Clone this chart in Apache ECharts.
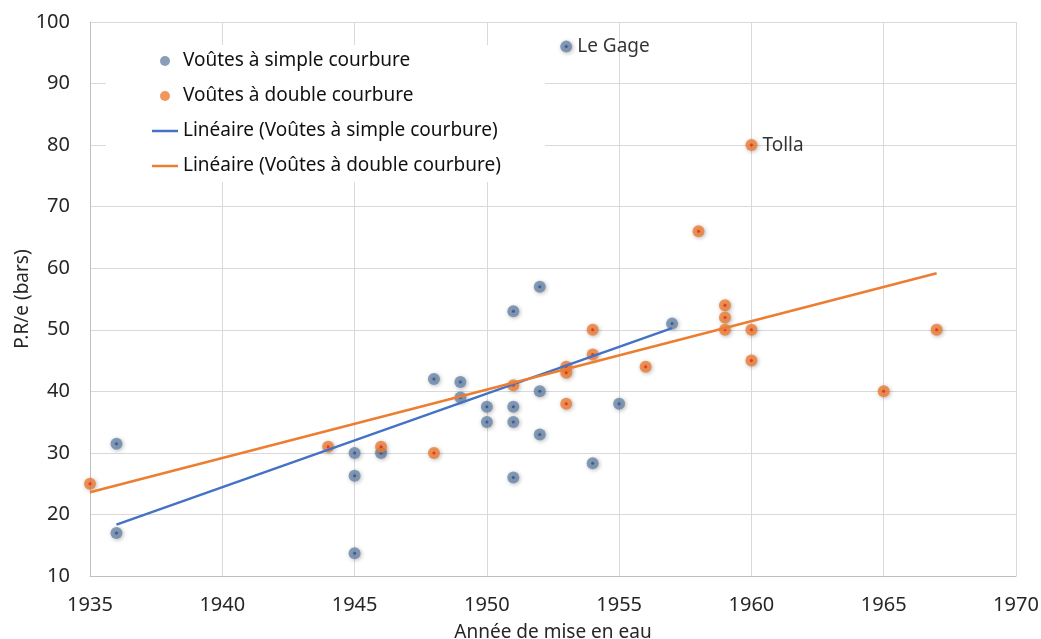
<!DOCTYPE html>
<html>
<head>
<meta charset="utf-8">
<script src="https://cdn.jsdelivr.net/npm/echarts@6/dist/echarts.min.js"></script>
<style>
  html, body { margin: 0; padding: 0; background: #fff; }
  #chart { width: 1041px; height: 639px; }
</style>
</head>
<body>
<div id="chart"></div>
<script>
// Dams with single-curvature arches: year of first filling and P.R/e (bars)
const simpleYears  = [1936, 1936, 1945, 1945, 1945, 1946, 1948, 1949, 1949, 1950, 1950, 1951, 1951, 1951, 1951, 1952, 1952, 1952, 1953, 1954, 1955, 1957];
const simpleValues = [31.5, 17.0, 30.0, 26.3, 13.7, 30.0, 42.0, 41.5, 39.0, 37.5, 35.0, 53.0, 37.5, 35.0, 26.0, 57.0, 40.0, 33.0, 96.0, 28.3, 38.0, 51.0];

// Dams with double-curvature arches
const doubleYears  = [1935, 1944, 1946, 1948, 1951, 1953, 1953, 1953, 1954, 1954, 1956, 1958, 1959, 1959, 1959, 1960, 1960, 1960, 1965, 1967];
const doubleValues = [25.0, 31.0, 31.0, 30.0, 41.0, 44.0, 43.0, 38.0, 50.0, 46.0, 44.0, 66.0, 54.0, 52.0, 50.0, 80.0, 50.0, 45.0, 40.0, 50.0];

// Named dams shown next to their point
const simpleNames = { 18: 'Le Gage' };
const doubleNames = { 15: 'Tolla' };

// Axis ranges
const xMin = 1935, xMax = 1970, xStep = 5;
const yMin = 10, yMax = 100, yStep = 10;

const seriesNames = [
  'Voûtes à simple courbure',
  'Voûtes à double courbure',
  'Linéaire (Voûtes à simple courbure)',
  'Linéaire (Voûtes à double courbure)'
];

const FONT = 'Noto Sans';
const TEXT = '#262626';
const BLUE_PT = '#6c86a8', BLUE_DOT = '#28509a';
const ORANGE_PT = '#ee7d33', ORANGE_DOT = '#e2261c';
const BLUE_LINE = '#4472c4', ORANGE_LINE = '#ed7d31';
const LINE_ICON = 'path://M0,0 L26,0 L26,2.5 L0,2.5 Z';

// Least-squares fit, drawn from the smallest to the largest year
function linearTrend(xs, ys) {
  const n = xs.length;
  const mx = xs.reduce((a, b) => a + b, 0) / n;
  const my = ys.reduce((a, b) => a + b, 0) / n;
  let sxy = 0, sxx = 0;
  for (let i = 0; i < n; i++) {
    sxy += (xs[i] - mx) * (ys[i] - my);
    sxx += (xs[i] - mx) * (xs[i] - mx);
  }
  const slope = sxy / sxx;
  const x0 = Math.min(...xs), x1 = Math.max(...xs);
  return [[x0, my + slope * (x0 - mx)], [x1, my + slope * (x1 - mx)]];
}

function points(xs, ys, names) {
  return xs.map((x, i) => {
    const item = { value: [x, ys[i]] };
    if (names && names[i]) {
      item.label = {
        show: true, position: 'right', distance: 5,
        formatter: names[i], fontFamily: FONT, fontSize: 19, color: '#000'
      };
    }
    return item;
  });
}

const pointShadow = {
  shadowBlur: 4, shadowColor: 'rgba(0,0,0,0.35)', shadowOffsetX: 1, shadowOffsetY: 1
};

const chart = echarts.init(document.getElementById('chart'), null, { renderer: 'canvas' });

chart.setOption({
  backgroundColor: '#fff',
  animation: false,
  grid: { left: 90, right: 25, top: 22, bottom: 63, containLabel: false, outerBoundsMode: 'none' },
  legend: {
    data: [
      { name: seriesNames[0], icon: 'circle' },
      { name: seriesNames[1], icon: 'circle' },
      { name: seriesNames[2], icon: LINE_ICON },
      { name: seriesNames[3], icon: LINE_ICON }
    ],
    orient: 'vertical',
    left: 106, top: 45,
    backgroundColor: '#fff',
    padding: [5, 44, 5, 46],
    itemGap: 13,
    itemWidth: 26,
    itemHeight: 10,
    textStyle: { fontFamily: FONT, fontSize: 19, color: '#111', lineHeight: 22 }
  },
  xAxis: {
    type: 'value', min: xMin, max: xMax, interval: xStep,
    name: 'Année de mise en eau', nameLocation: 'middle', nameGap: 47,
    nameTextStyle: { fontFamily: FONT, fontSize: 19, color: TEXT },
    axisLine: { show: true, lineStyle: { color: '#bfbfbf', width: 1 } },
    axisTick: { show: false },
    axisLabel: { fontFamily: FONT, fontSize: 20, color: TEXT, margin: 19, formatter: v => String(v) },
    splitLine: { show: true, lineStyle: { color: '#d9d9d9', width: 1 } }
  },
  yAxis: {
    type: 'value', min: yMin, max: yMax, interval: yStep,
    name: 'P.R/e (bars)', nameLocation: 'middle', nameGap: 58, nameRotate: 90,
    nameMoveOverlap: false,
    nameTextStyle: { fontFamily: FONT, fontSize: 19, color: TEXT },
    axisLine: { show: true, lineStyle: { color: '#bfbfbf', width: 1 } },
    axisTick: { show: false },
    axisLabel: { fontFamily: FONT, fontSize: 20, color: TEXT, margin: 20, formatter: v => String(v) },
    splitLine: { show: true, lineStyle: { color: '#d9d9d9', width: 1 } }
  },
  series: [
    {
      name: seriesNames[0], type: 'scatter', symbol: 'circle', symbolSize: 12,
      itemStyle: Object.assign({ color: BLUE_PT }, pointShadow),
      data: points(simpleYears, simpleValues, simpleNames)
    },
    {
      name: 'simple-centre', type: 'scatter', symbol: 'circle', symbolSize: 3, silent: true,
      itemStyle: { color: BLUE_DOT },
      data: points(simpleYears, simpleValues)
    },
    {
      name: seriesNames[1], type: 'scatter', symbol: 'circle', symbolSize: 12,
      itemStyle: Object.assign({ color: ORANGE_PT }, pointShadow),
      data: points(doubleYears, doubleValues, doubleNames)
    },
    {
      name: 'double-centre', type: 'scatter', symbol: 'circle', symbolSize: 3, silent: true,
      itemStyle: { color: ORANGE_DOT },
      data: points(doubleYears, doubleValues)
    },
    {
      name: seriesNames[2], type: 'line', showSymbol: false, symbol: 'none',
      lineStyle: { color: BLUE_LINE, width: 2.5 }, itemStyle: { color: BLUE_LINE },
      data: linearTrend(simpleYears, simpleValues)
    },
    {
      name: seriesNames[3], type: 'line', showSymbol: false, symbol: 'none',
      lineStyle: { color: ORANGE_LINE, width: 2.5 }, itemStyle: { color: ORANGE_LINE },
      data: linearTrend(doubleYears, doubleValues)
    }
  ]
});
</script>
</body>
</html>
